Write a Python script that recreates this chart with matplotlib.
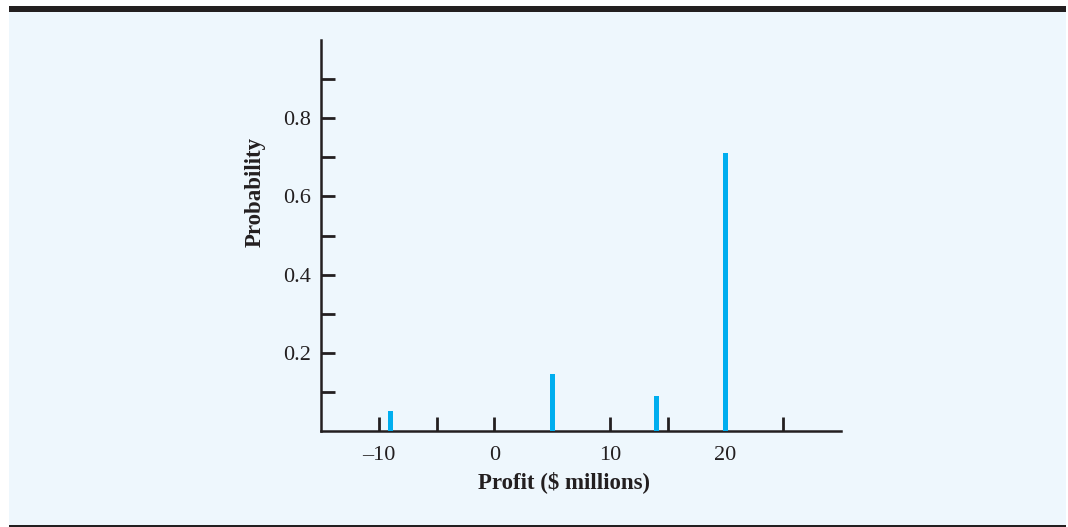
import matplotlib.pyplot as plt
from matplotlib.patches import Rectangle

# data
profit = [-9, 5, 14, 20]
prob = [0.05, 0.145, 0.09, 0.71]
xticks = [-10, 0, 10, 20]
xticks_minor = [-5, 5, 15, 25]
yticks = [0.2, 0.4, 0.6, 0.8]
yticks_minor = [0.1, 0.3, 0.5, 0.7, 0.9]

W, H = 1068, 527
plt.rcParams['font.family'] = ['Liberation Serif', 'DejaVu Serif']

fig = plt.figure(figsize=(W / 100, H / 100), dpi=100)
fig.patch.set_facecolor('white')

# light blue panel, black top band, thin bottom rule
fig.patches.append(Rectangle((9 / W, 1 - 525 / H), (1066 - 9) / W, (525 - 12) / H,
                             transform=fig.transFigure, facecolor='#EEF7FD', edgecolor='none', zorder=-2))
fig.patches.append(Rectangle((9 / W, 1 - 12 / H), (1066 - 9) / W, 6 / H,
                             transform=fig.transFigure, facecolor='#231F20', edgecolor='none', zorder=-1))
fig.patches.append(Rectangle((9 / W, 1 - 527 / H), (1066 - 9) / W, 2 / H,
                             transform=fig.transFigure, facecolor='#231F20', edgecolor='none', zorder=-1))

ax = fig.add_axes([321 / W, 1 - 431 / H, (841 - 321) / W, (431 - 40) / H])
ax.set_facecolor('none')
ax.set_zorder(5)

ax.bar(profit, prob, width=0.42, color='#00AEEF', zorder=3)

ax.set_xlim(-15, 30)
ax.set_ylim(0, 1.0)

for s in ['top', 'right']:
    ax.spines[s].set_visible(False)
for s in ['left', 'bottom']:
    ax.spines[s].set_linewidth(1.8)
    ax.spines[s].set_color('#231F20')

ax.set_xticks(xticks)
ax.set_xticklabels(['\u201310', '0', '10', '20'])
ax.set_xticks(xticks_minor, minor=True)
ax.set_yticks(yticks)
ax.set_yticklabels(['0.2', '0.4', '0.6', '0.8'])
ax.set_yticks(yticks_minor, minor=True)

ax.tick_params(axis='both', which='both', direction='in', length=10, width=2,
               color='#231F20', labelsize=16, labelcolor='#231F20')
ax.tick_params(axis='x', which='major', pad=11)
ax.tick_params(axis='y', which='major', pad=7)

fig.text(564 / W, 1 - 482 / H, 'Profit ($ millions)', ha='center', va='center',
         fontsize=16.5, fontweight='bold', color='#231F20')
fig.text(255 / W, 1 - 192 / H, 'Probability', ha='center', va='center', rotation=90,
         fontsize=16.5, fontweight='bold', color='#231F20')

fig.savefig('out.png', dpi=100)
